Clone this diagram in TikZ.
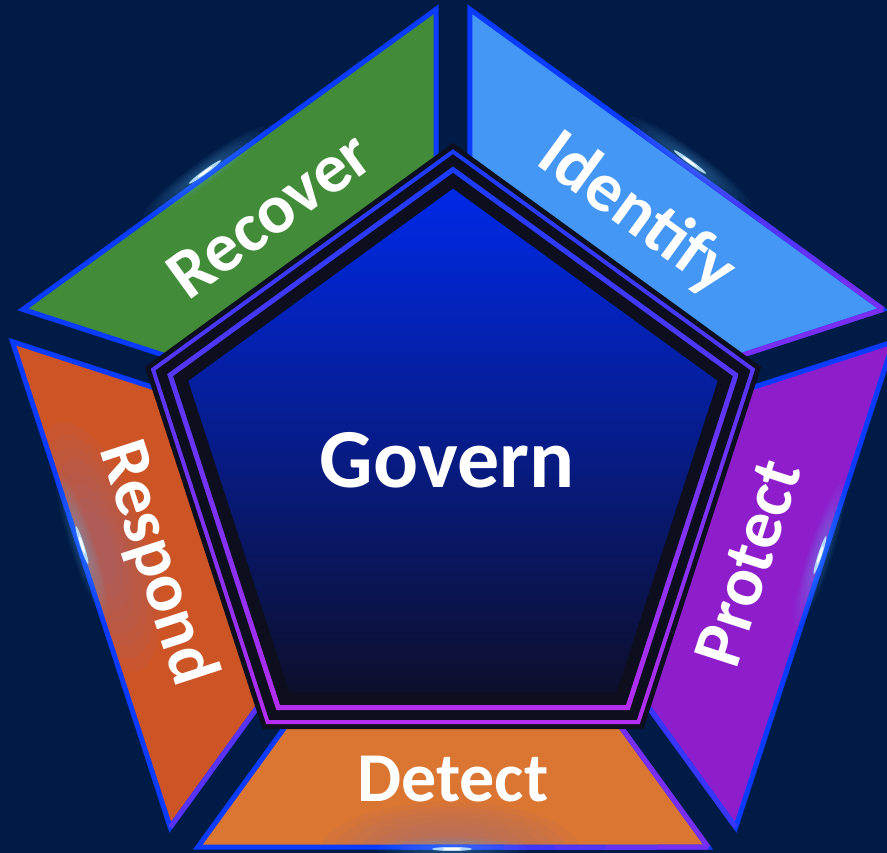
\documentclass[tikz,border=0pt]{standalone}
\usepackage{fontspec}
\setmainfont{Carlito}
\usetikzlibrary{calc}
\definecolor{bgnavy}{HTML}{011B47}
\definecolor{recovergreen}{HTML}{428B38}
\definecolor{identifyblue}{HTML}{4597F6}
\definecolor{protectpurple}{HTML}{8E1ECC}
\definecolor{detectorange}{HTML}{DA7632}
\definecolor{respondred}{HTML}{CD5425}
\definecolor{edgeblue}{HTML}{0A3BFF}
\definecolor{edgepurple}{HTML}{7A2EF2}
\definecolor{frameblack}{HTML}{0D0F1E}
\definecolor{frameblue}{HTML}{1A3CFF}
\definecolor{framemid}{HTML}{6230FF}
\definecolor{framepurple}{HTML}{B42EF0}
\definecolor{govtop}{HTML}{0029E8}
\definecolor{govmid}{HTML}{0A1FA2}
\definecolor{govbottom}{HTML}{0D0F2C}
\definecolor{flare}{HTML}{5FC3FF}
\definecolor{haze}{HTML}{9A6A86}
\newcommand\pentpath[1]{(90:#1) -- (162:#1) -- (234:#1) -- (306:#1) -- (378:#1) -- cycle}
\begin{document}
\begin{tikzpicture}[x=1pt, y=1pt, line join=miter, line cap=butt,
	segment/.style={fill=#1, draw=edgeblue, line width=5pt},
	seglabel/.style={text=white, inner sep=0pt, font=\fontsize{70}{70}\selectfont\bfseries}]
	\useasboundingbox (-453,-386) rectangle (434,467);
	\fill[bgnavy] (-453,-386) rectangle (434,467);
	
	% five outer segments
	\foreach \a/\col/\name in {90/recovergreen/recover, 162/respondred/respond, 234/detectorange/detect, 306/protectpurple/protect, 378/identifyblue/identify}{
		\pgfmathsetmacro\b{\a+72}
		\coordinate (\name-1) at ($(\a:470)!21pt!(\b:470)$);
		\coordinate (\name-2) at ($(\b:470)!21pt!(\a:470)$);
		\coordinate (\name-3) at ($(\b:300)!21pt!(\a:300)$);
		\coordinate (\name-4) at ($(\a:300)!21pt!(\b:300)$);
		\fill[\col] (\name-1)--(\name-2)--(\name-3)--(\name-4)--cycle;
	}
	% soft haze inside Respond and Detect
	\foreach \name/\x/\y/\r in {respond/-355/-80/108, detect/-3/-385/0}{
		\begin{scope}
			\clip (\name-1)--(\name-2)--(\name-3)--(\name-4)--cycle;
			\foreach \s in {1,0.9,0.8,0.7,0.6,0.5,0.4,0.3}
			\fill[haze, opacity=0.09, shift={(\x,\y)}, rotate=\r] (0,0) ellipse ({130*\s} and {50*\s});
		\end{scope}
	}
	\foreach \name in {recover, respond, detect, protect, identify}
	\draw[line width=5pt, edgeblue] (\name-1)--(\name-2)--(\name-3)--(\name-4)--cycle;
	\draw[line width=5pt, edgepurple] (identify-4)--(identify-1);
	\draw[line width=5pt, edgepurple] (detect-2)--(detect-3);
	\draw[line width=5pt, edgepurple!70!edgeblue] (respond-2)--(respond-3);
	\draw[line width=5pt, edgepurple!40!edgeblue] (protect-4)--(protect-1);
	\foreach \k in {4,...,9}{
		\pgfmathsetmacro\pc{(\k-3)*16}
		\draw[line width=5pt, edgepurple!\pc!edgeblue] ($(detect-1)!{\k/10}!(detect-2)$)--($(detect-1)!{\k/10+0.1}!(detect-2)$);
		\draw[line width=5pt, edgepurple!\pc!edgeblue] ($(identify-2)!{\k/10}!(identify-1)$)--($(identify-2)!{\k/10+0.1}!(identify-1)$);
	}
	\node[seglabel, rotate=36] (recover) at (126:312) {Recover};
	\node[seglabel, rotate=-36] (identify) at (54:312) {Identify};
	\node[seglabel, rotate=72] (protect) at (342:310) {Protect};
	\node[seglabel] (detect) at (270:312) {Detect};
	\node[seglabel, rotate=-72] (respond) at (198:312) {Respond};
	
	% central frame
	\fill[frameblack] \pentpath{324};
	\shade[top color=frameblue, middle color=framemid, bottom color=framepurple, even odd rule] \pentpath{317.8} \pentpath{312.9};
	\shade[top color=frameblue, middle color=framemid, bottom color=framepurple, even odd rule] \pentpath{300.5} \pentpath{294.3};
	\shade[top color=govtop, middle color=govmid, bottom color=govbottom] \pentpath{278.3};
	\node[text=white, inner sep=0pt, font=\fontsize{84}{84}\selectfont\bfseries] (govern) at (-6,7) {Govern};
	
	% light flares on the outer edges
	\foreach \x/\y/\r in {-248/295/36, 237/305/-36, 367/-88/72, -371/-78/108, -1/-382/0}{
		\begin{scope}[shift={(\x,\y)}, rotate=\r]
			\foreach \s in {1,0.9,0.8,0.7,0.6,0.5,0.4,0.3,0.2,0.12}
			\fill[flare, opacity=0.045] (0,0) ellipse ({75*\s} and {12*\s});
			\fill[flare!40!white, opacity=0.9] (0,0) ellipse (20 and 2);
			\fill[white] (0,0) ellipse (9 and 1.2);
		\end{scope}
	}
\end{tikzpicture}
\end{document}
